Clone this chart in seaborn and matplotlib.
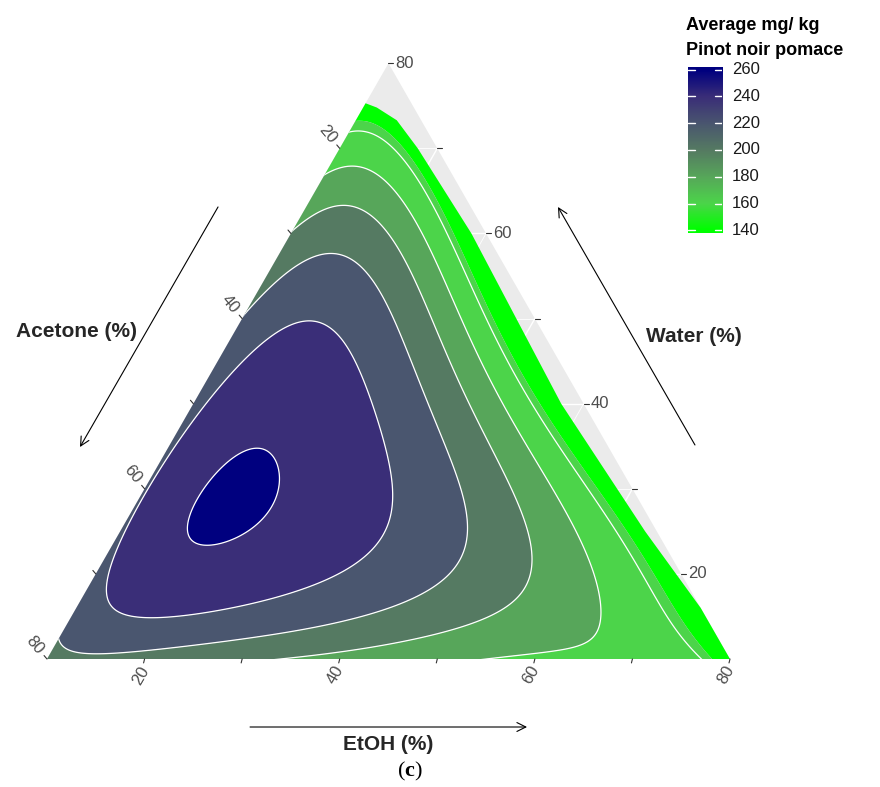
import numpy as np
import matplotlib
matplotlib.use("Agg")
import matplotlib.pyplot as plt
import seaborn as sns
from matplotlib.patches import Polygon

sns.set_theme(style="white")
plt.rcParams['font.family'] = ['Liberation Sans', 'DejaVu Sans']
plt.rcParams['mathtext.fontset'] = 'custom'
plt.rcParams['mathtext.bf'] = 'Liberation Serif:bold'
plt.rcParams['mathtext.rm'] = 'Liberation Serif'

# ---------------- data ----------------
# points lying on each contour of the response (EtOH %, Water %; Acetone = 100 - EtOH - Water)
c263_etoh = [19.3, 20.0, 18.5]
c263_water = [29.3, 28.0, 30.5]
c260_etoh = [19.2, 22.2, 23.25, 19.6, 16.9, 16.5]
c260_water = [34.6, 31.9, 27.2, 24.2, 26.0, 31.9]
c240_etoh = [17.0, 25.2, 22.0, 30.85, 34.05, 37.0, 33.2, 24.7, 18.3, 11.9, 11.9, 10.45]
c240_water = [49.2, 44.3, 46.7, 36.6, 32.2, 20.8, 18.9, 15.4, 14.6, 17.8, 43.1, 30.2]
c238_etoh = [10.0]
c238_water = [30.0]
c220_etoh = [10.0, 14.96, 17.6, 24.2, 33.85, 36.2, 44.2, 46.1, 46.05, 42.8, 36.9, 31.0, 21.65, 13.6, 10.0]
c220_water = [50.2, 57.5, 56.9, 51.8, 40.8, 38.1, 26.3, 22.5, 18.5, 16.1, 14.2, 13.2, 11.3, 11.06, 13.05]
c215_etoh = [10.0]
c215_water = [10.0]
c200_etoh = [10.0, 12.33, 14.4, 18.9, 25.65, 32.7, 38.2, 48.07, 53.3, 54.56, 53.06, 47.7, 38.65, 34.9]
c200_water = [60.4, 63.35, 63.35, 60.4, 54.5, 46.7, 38.9, 30.2, 22.5, 19.3, 16.1, 13.06, 10.7, 10.0]
c180_etoh = [10.0, 11.9, 13.36, 18.7, 25.05, 32.55, 40.3, 44.44, 53.7, 61.1, 63.8, 64.05, 59.4]
c180_water = [67.1, 68.3, 68.05, 64.3, 58.4, 50.2, 40.8, 38.1, 28.3, 20.5, 16.1, 12.6, 10.24]
c160_etoh = [10.0, 13.46, 15.26, 18.3, 19.78, 26.4, 33.7, 41.55, 44.8, 47.2, 57.2, 66.27, 73.9, 77.4]
c160_water = [71.3, 71.3, 70.4, 67.8, 66.3, 59.2, 51.4, 42.4, 39.85, 38.1, 28.3, 20.5, 12.6, 10.0]
c150_etoh = [10.95, 13.2, 18.5, 27.0, 36.4, 45.8, 56.2, 67.75, 74.3, 78.7]
c150_water = [73.7, 73.3, 68.6, 60.0, 50.0, 39.85, 30.0, 20.1, 13.06, 10.0]
c143_etoh = [69.5, 47.9, 28.5, 15.7, 10.0, 80.0]
c143_water = [20.0, 40.0, 60.0, 72.0, 75.2, 10.0]

# extent of the experimental region (Water %, minimum Acetone %)
region_water = [10.0, 16.0, 25.0, 40.0, 60.0, 70.0, 73.3, 74.8, 75.3]
region_acetone_min = [10.0, 10.0, 11.2, 12.3, 11.5, 12.0, 12.5, 13.8, 14.7]

fill_breaks = [100, 154, 180, 200, 220, 240, 260, 400]
fill_colors = ['#00ff00', '#4cd44a', '#57a65a', '#557a62', '#4a566f', '#3a2e78', '#00007f']
line_breaks = [160, 180, 200, 220, 240, 260]
legend_values = [140, 160, 180, 200, 220, 240, 260]
tick_values = [20, 30, 40, 50, 60, 70, 80]
label_values = [20, 40, 60, 80]

# ---------------- helpers ----------------
S3 = np.sqrt(3) / 2


def to_xy(E, W):
    E = np.asarray(E, float)
    W = np.asarray(W, float)
    return (E - 10) + 0.5 * (W - 10), (W - 10) * S3


def basis(E, W, deg=6):
    x = (np.asarray(E, float) - 40) / 35.0
    y = (np.asarray(W, float) - 40) / 35.0
    cols = []
    for i in range(deg + 1):
        for j in range(deg + 1 - i):
            cols.append(x ** i * y ** j)
    return np.stack(cols, axis=-1)


groups = [(263, c263_etoh, c263_water, 3.0), (260, c260_etoh, c260_water, 3.0),
          (240, c240_etoh, c240_water, 1.5), (238, c238_etoh, c238_water, 1.0),
          (220, c220_etoh, c220_water, 1.0), (215, c215_etoh, c215_water, 1.0),
          (200, c200_etoh, c200_water, 1.0), (180, c180_etoh, c180_water, 1.0),
          (160, c160_etoh, c160_water, 1.0), (150, c150_etoh, c150_water, 1.0),
          (143, c143_etoh, c143_water, 0.5)]
E_all = np.concatenate([np.array(g[1], float) for g in groups])
W_all = np.concatenate([np.array(g[2], float) for g in groups])
V_all = np.concatenate([np.full(len(g[1]), g[0], float) for g in groups])
wts = np.concatenate([np.full(len(g[1]), g[3], float) for g in groups])

# smooth response surface through the read contour points (like an interpolation stat)
B = basis(E_all, W_all) * wts[:, None]
lam = 1e-6
Baug = np.vstack([B, np.sqrt(lam) * np.eye(B.shape[1])])
Vaug = np.concatenate([V_all * wts, np.zeros(B.shape[1])])
coef, *_ = np.linalg.lstsq(Baug, Vaug, rcond=None)

# ---------------- figure ----------------
fig = plt.figure(figsize=(8.8, 7.87), dpi=100)
ax = fig.add_axes([0, 0, 1, 1])
kx, ky, x0, y0 = 9.757, 9.827, 47.0, 659.0
ax.set_xlim(-x0 / kx, (880 - x0) / kx)
ax.set_ylim((y0 - 787) / ky, y0 / ky)
ax.axis('off')

tri = np.array([[0, 0], [70, 0], [35, 70 * S3]])
ax.add_patch(Polygon(tri, closed=True, facecolor='#ebebeb', edgecolor='none', zorder=0))

# grid lines
for v in tick_values[:-1]:
    lw = 1.0 if v in label_values else 0.6
    xa, ya = to_xy([10, 90 - v], [v, v])
    ax.plot(xa, ya, color='white', lw=lw, zorder=1)
    xa, ya = to_xy([v, v], [10, 90 - v])
    ax.plot(xa, ya, color='white', lw=lw, zorder=1)
    xa, ya = to_xy([10, 90 - v], [90 - v, 10])
    ax.plot(xa, ya, color='white', lw=lw, zorder=1)

# clip region (experimental region)
rw = np.array(region_water)
ra = np.array(region_acetone_min)
re = 100 - rw - ra
bx, by = to_xy(re, rw)
clip_pts = np.vstack([[[0, 0]], np.column_stack([bx, by])])
clip_poly = Polygon(clip_pts, closed=True, facecolor='none', edgecolor='none',
                    transform=ax.transData)
ax.add_patch(clip_poly)

gx = np.linspace(-1, 71, 520)
gy = np.linspace(-1, 62, 460)
GX, GY = np.meshgrid(gx, gy)
GW = 10 + GY / S3
GE = 10 + GX - 0.5 * (GW - 10)
Z = basis(GE, GW) @ coef

cf = ax.contourf(GX, GY, Z, levels=fill_breaks, colors=fill_colors, zorder=2, antialiased=True)
cf.set_clip_path(clip_poly)
cl = ax.contour(GX, GY, Z, levels=line_breaks, colors='white', linewidths=0.9, zorder=3)
cl.set_clip_path(clip_poly)

# ticks and labels
tick_col = '#4d4d4d'
for v in tick_values:
    xr, yr = to_xy(90 - v, v)
    ax.plot([xr, xr + 0.5], [yr, yr], color='#333333', lw=0.8, zorder=4, clip_on=False)
    if v in label_values:
        ax.text(xr + 0.7, yr, str(v), ha='left', va='center', fontsize=12, color=tick_col)
    xl, yl = to_xy(10, 90 - v)
    ax.plot([xl, xl - 0.3], [yl, yl + 0.35], color='#333333', lw=0.8, zorder=4, clip_on=False)
    if v in label_values:
        ax.text(xl - 1.25, yl + 1.45, str(v), ha='center', va='center', fontsize=12,
                color=tick_col, rotation=-50, rotation_mode='anchor')
    xb, yb = to_xy(v, 10)
    ax.plot([xb, xb - 0.1], [yb, yb - 0.4], color='#333333', lw=0.8, zorder=4, clip_on=False)
    if v in label_values:
        ax.text(xb - 0.42, yb - 1.65, str(v), ha='center', va='center', fontsize=12,
                color=tick_col, rotation=60, rotation_mode='anchor')

# axis titles and arrows
arrow_kw = dict(arrowstyle='->', lw=0.8, color='black', mutation_scale=16, shrinkA=0, shrinkB=0)
ax.annotate('', xy=(3.38, 21.57), xytext=(17.53, 46.0), arrowprops=arrow_kw)
ax.annotate('', xy=(52.37, 46.0), xytext=(66.41, 21.78), arrowprops=arrow_kw)
ax.annotate('', xy=(49.2, -6.92), xytext=(20.81, -6.92), arrowprops=arrow_kw)
ax.text(3.0, 33.28, 'Acetone (%)', ha='center', va='center', fontsize=15, fontweight='bold', color='#262626')
ax.text(66.31, 32.77, 'Water (%)', ha='center', va='center', fontsize=15, fontweight='bold', color='#262626')
ax.text(34.95, -8.75, 'EtOH (%)', ha='center', va='center', fontsize=15, fontweight='bold', color='#262626')
ax.text(37.2, -11.4, r'($\mathbf{c}$)', ha='center', va='center', fontsize=16,
        family='Liberation Serif', color='black')

# colour bar
cax = fig.add_axes([688 / 880, 1 - 233 / 787, 34 / 880, 166 / 787])
cmap = sns.blend_palette(fill_colors, as_cmap=True)
lo, hi = 138.0, 262.0
grad = np.linspace(lo, hi, 256).reshape(-1, 1)
cax.imshow(grad, aspect='auto', cmap=cmap, origin='lower', extent=[0, 1, lo, hi],
           vmin=legend_values[0], vmax=legend_values[-1])
cax.set_xlim(0, 1)
cax.set_ylim(lo, hi)
cax.axis('off')
for v in legend_values:
    cax.plot([0, 0.2], [v, v], color='white', lw=1)
    cax.plot([0.8, 1.0], [v, v], color='white', lw=1)
    cax.text(1.3, v, str(v), ha='left', va='center', fontsize=12, color='#1a1a1a',
             transform=cax.transData)
fig.text(686 / 880, 1 - 30 / 787, 'Average mg/ kg', ha='left', va='baseline', fontsize=13,
         fontweight='bold', color='black')
fig.text(686 / 880, 1 - 55 / 787, 'Pinot noir pomace', ha='left', va='baseline', fontsize=13,
         fontweight='bold', color='black')

fig.savefig('out.png', dpi=100)
